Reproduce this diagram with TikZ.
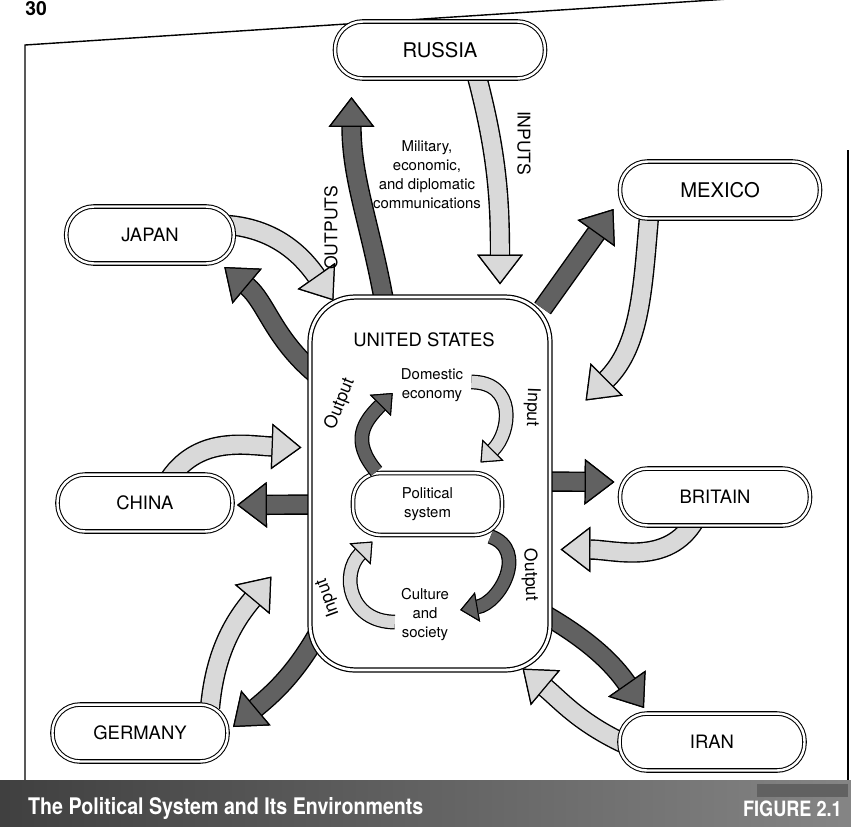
\documentclass[tikz,border=0pt]{standalone}
\usepackage{fontspec}
\setmainfont{TeX Gyre Heros}
\newfontfamily\bannerfont[FakeStretch=0.86]{TeX Gyre Heros}
\usetikzlibrary{arrows.meta, backgrounds, calc}

\tikzset{
  country/.style={draw, double, double distance=1.4pt, line width=0.6pt, fill=white,
    rounded corners=0.55cm, minimum height=1.14cm, font=\fontsize{10.5}{12}\selectfont},
  outflow/.style={line width=10pt, draw=black!62,
    -{Triangle[length=17pt, width=26pt, fill=black!62, color=black, line width=0.7pt]},
    preaction={draw=black, line width=11.6pt}},
  inflow/.style={line width=10pt, draw=black!15,
    -{Triangle[length=17pt, width=26pt, fill=black!15, color=black, line width=0.7pt]},
    preaction={draw=black, line width=11.6pt}},
  loopout/.style={line width=7pt, draw=black!62,
    -{Triangle[length=10pt, width=17pt, fill=black!62, color=black, line width=0.6pt]},
    preaction={draw=black, line width=8.4pt}},
  loopin/.style={line width=7pt, draw=black!15,
    -{Triangle[length=10pt, width=17pt, fill=black!15, color=black, line width=0.6pt]},
    preaction={draw=black, line width=8.4pt}},
  flowlabel/.style={font=\fontsize{10}{12}\selectfont},
  smalltext/.style={font=\fontsize{8.5}{10.8}\selectfont, align=center}
}

\begin{document}
\begin{tikzpicture}[x=0.02cm, y=-0.02cm]
    \useasboundingbox (0,0) rectangle (851,826);

    % Page number
    \node[anchor=base, font=\bfseries\fontsize{11}{12}\selectfont] (page) at (36,15) {30};

    % Countries
    \node[country, minimum width=4.2cm, font=\fontsize{11.5}{13}\selectfont] (russia) at (440,50) {RUSSIA};
    \node[country, minimum width=4.0cm, font=\fontsize{11.5}{13}\selectfont] (mexico) at (720,190) {MEXICO};
    \node[country, minimum width=3.35cm] (japan) at (150,235) {JAPAN};
    \node[country, minimum width=3.5cm] (china) at (145,503) {CHINA};
    \node[country, minimum width=3.8cm] (britain) at (715,497) {BRITAIN};
    \node[country, minimum width=3.5cm] (germany) at (140,733) {GERMANY};
    \node[country, minimum width=3.7cm] (iran) at (712,742) {IRAN};

    % United States and its inner loop
    \node[draw, double, double distance=1.6pt, line width=0.7pt, fill=white, rounded corners=0.9cm,
      minimum width=4.8cm, minimum height=7.46cm] (us) at (430,483.5) {};
    \node[font=\fontsize{10.5}{13}\selectfont] (ustitle) at (424,340) {UNITED STATES};
    \node[country, minimum width=2.98cm, minimum height=1.24cm, smalltext] (pol) at (427.5,504) {Political\\system};
    \node[smalltext] (dom) at (432,385) {Domestic\\economy};
    \node[smalltext] (cult) at (425,615) {Culture\\and\\society};

    \draw[loopout] ($(pol.north west)+(24,-1)$) to[out=130, in=225, looseness=1.3] ($(dom.west)+(-2,8)$);
    \draw[loopin] ($(dom.east)+(2,-3)$) to[out=0, in=45, looseness=1.4] ($(pol.north east)+(-22,-10)$);
    \draw[loopin] ($(cult.west)+(0,7)$) to[out=180, in=225, looseness=1.4] ($(pol.south west)+(20,6)$);
    \draw[loopout] ($(pol.south east)+(-12,1)$) to[out=-20, in=10, looseness=1.3] ($(cult.east)+(5,-5)$);

    \node[flowlabel, rotate=68, inner sep=1pt] (out1) at (340,404) {Output};
    \node[flowlabel, rotate=-92, inner sep=1pt] (in1) at (532,407) {Input};
    \node[flowlabel, rotate=110, inner sep=1pt] (in2) at (328,598) {Input};
    \node[flowlabel, rotate=-88, inner sep=1pt] (out2) at (530,575) {Output};

    % Communications with Russia
    \node[smalltext] (comms) at (427,175) {Military,\\economic,\\and diplomatic\\communications};
    \node[flowlabel, rotate=90] (outputs) at (331,228) {OUTPUTS};
    \node[flowlabel, rotate=-90] (inputs) at (524,143) {INPUTS};

    \begin{scope}[on background layer]
        % Figure frame
        \draw[line width=0.8pt] (851,-9) -- (25,45) -- (25,780);
        \draw[line width=0.8pt] (848,150) -- (848,780);

        % Outputs (dark) and inputs (light)
        \draw[outflow] ($(us.north)+(-45,10)$) to[out=100, in=-90] ($(russia.south west)+(17,18)$);
        \draw[inflow] ($(russia.south)+(36,-6)$) to[out=-75, in=90] ($(us.north)+(70,-12)$);
        \draw[outflow] ($(us.north east)+(-8,12)$) -- ($(mexico.south west)+(-6,-10)$);
        \draw[inflow] ($(mexico.south west)+(30,-8)$) to[out=-95, in=45] ($(us.east)+(35,-83)$);
        \draw[outflow] ($(us.west)+(6,-110)$) to[out=140, in=-40] ($(japan.south east)+(-10,3)$);
        \draw[inflow] ($(japan.east)+(-6,-10)$) to[out=-5, in=125] ($(us.north west)+(24,4)$);
        \draw[outflow] ($(us.west)+(6,21)$) -- ($(china.east)+(4,2)$);
        \draw[inflow] ($(china.north)+(25,4)$) to[out=55, in=178] ($(us.west)+(-8,-36)$);
        \draw[outflow] ($(us.east)+(-6,-2)$) -- ($(britain.west)+(-5,-15)$);
        \draw[inflow] ($(britain.south)+(-20,-6)$) to[out=-120, in=0] ($(us.east)+(10,66)$);
        \draw[outflow] ($(us.south east)+(-6,-56)$) to[out=-30, in=125] ($(iran.north west)+(25,-5)$);
        \draw[inflow] ($(iran.west)+(6,2)$) to[out=155, in=-40] ($(us.south east)+(-28,-2)$);
        \draw[outflow] ($(us.south west)+(8,-36)$) to[out=-120, in=40] ($(germany.east)+(5,-6)$);
        \draw[inflow] ($(germany.north east)+(-18,4)$) to[out=85, in=-130] ($(us.south west)+(-38,-94)$);
    \end{scope}

    % Caption banner
    \fill[left color=black!75, right color=black!48] (0,780) rectangle (851,826);
    \fill[black!62] (757,784) rectangle (848,797);
    \node[anchor=west, text=white, font=\bannerfont\bfseries\fontsize{13}{15}\selectfont] (title) at (22,808) {The Political System and Its Environments};
    \node[anchor=east, text=white, font=\bannerfont\bfseries\fontsize{12}{14}\selectfont] (fig) at (848,809) {FIGURE 2.1};
\end{tikzpicture}
\end{document}
